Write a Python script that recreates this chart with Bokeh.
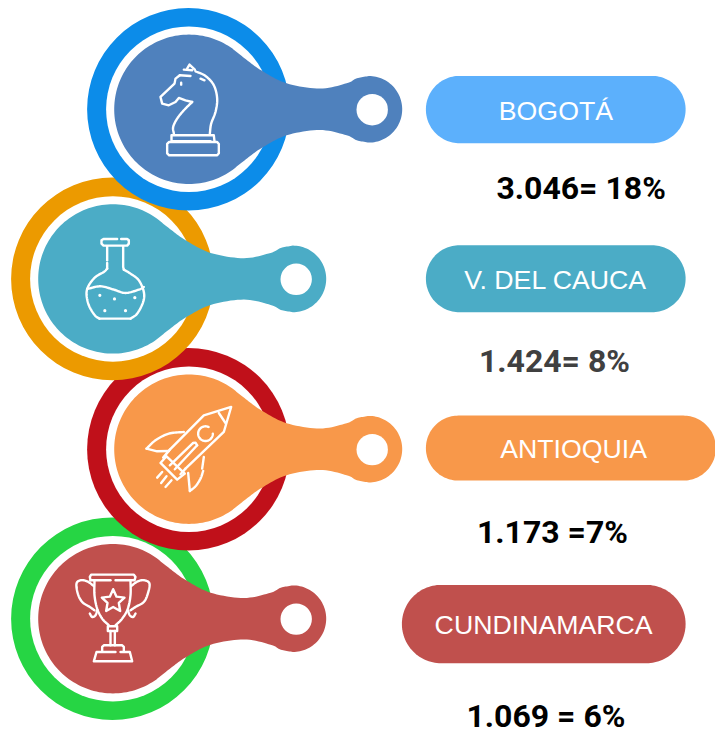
import numpy as np
from bokeh.core.properties import value
from bokeh.embed import file_html
from bokeh.plotting import figure
from bokeh.resources import INLINE

# ---- chart content
regions = ["BOGOTÁ", "V. DEL CAUCA", "ANTIOQUIA", "CUNDINAMARCA"]
value_labels = ["3.046= 18%", "1.424= 8%", "1.173 =7%", "1.069 = 6%"]
value_colors = ["#000000", "#404040", "#000000", "#000000"]
main_colors = ["#4F81BD", "#4BACC6", "#F8984A", "#C0504D"]
pill_colors = ["#5CB0FC", "#4BACC6", "#F8984A", "#C0504D"]
ring_colors = ["#0C8CE9", "#EC9A00", "#C0101A", "#26D544"]

# ---- layout, in page pixels
centers = [(189, 109.4), (113, 279), (189, 449.3), (113, 618.8)]
pills = [(426, 685.7, 76, 143.3), (426, 685.7, 245.3, 312.3),
         (426, 716, 415.7, 480.7), (402, 685.7, 585, 663.3)]
pill_text_x = [556, 555.7, 573.7, 543.7]
pill_text_y = [110.6, 279.6, 449, 624.6]
value_x = [496.5, 479, 477, 466.5]
value_y = [188.4, 361, 531.6, 716]


def smooth(pts, n=10):
    """Catmull-Rom curve through the given outline points."""
    p = np.array(pts, float)
    p = np.vstack([2 * p[0] - p[1], p, 2 * p[-1] - p[-2]])
    out = []
    for i in range(1, len(p) - 2):
        for t in np.linspace(0, 1, n, endpoint=False):
            a, b, c, d = p[i - 1], p[i], p[i + 1], p[i + 2]
            out.append(0.5 * (2 * b + (c - a) * t + (2 * a - 5 * b + 4 * c - d) * t ** 2
                              + (3 * b - a - 3 * c + d) * t ** 3))
    out.append(p[-2])
    return np.array(out)


def arc(cx, cy, r, a0, a1, n=60):
    t = np.radians(np.linspace(a0, a1, n))
    return np.column_stack([cx + r * np.cos(t), cy + r * np.sin(t)])


def teardrop(cx, cy):
    upper = smooth([(43.9, -60.4), (57, -50), (72.7, -38.7), (97.7, -26), (131, -20.7),
                    (157.7, -26), (168, -31), (180, -33.3)])
    head = arc(180, 0, 33.3, -90, 90)
    lower = upper[::-1] * [1, -1]
    a = np.degrees(np.arctan2(60.4, 43.9))
    disc = arc(0, 0, 74.7, a, 360 - a, 120)
    pts = np.vstack([upper, head, lower, disc])
    return pts[:, 0] + cx, pts[:, 1] + cy


def pill(l, r, t, b):
    rad = (b - t) / 2
    my = (t + b) / 2
    pts = np.vstack([arc(r - rad, my, rad, -90, 90), arc(l + rad, my, rad, 90, 270)])
    return pts[:, 0], pts[:, 1]


# ---- icon strokes, in 3x crop coordinates
S, L = smooth, lambda pts: np.array(pts, float)

knight = [
    L([(110, 40), (117, 28), (133, 43)]),
    L([(100, 43), (125, 45)]),
    S([(135, 48), (165, 62), (190, 90), (200, 130), (195, 170), (182, 205), (178, 235)]),
    L([(88, 60), (120, 62)]),
    L([(150, 70), (162, 75)]),
    L([(92, 82), (92, 88)]),
    L([(88, 60), (75, 70), (72, 85), (30, 125), (35, 145), (55, 150), (75, 140), (85, 128),
       (105, 135), (125, 140)]),
    S([(125, 140), (100, 165), (80, 190), (68, 215), (70, 235)]),
    L([(63, 258), (63, 240), (190, 240), (192, 258)]),
    L([(65, 258), (180, 258)]),
    L([(56, 260), (200, 260), (205, 266), (205, 294), (200, 300), (56, 300), (50, 294),
       (50, 266), (56, 260)]),
]
flask = [
    L([(125, 26), (84, 26), (78, 30), (78, 40), (84, 46), (155, 46), (160, 40), (160, 30),
       (155, 26), (137, 26)]),
    L([(95, 48), (95, 90)]),
    L([(95, 98), (95, 115)]),
    S([(95, 115), (85, 125), (60, 140), (40, 165), (33, 190), (40, 225), (58, 255), (72, 265)]),
    L([(72, 265), (165, 265)]),
    S([(165, 265), (185, 250), (203, 215), (205, 185), (190, 150), (165, 130), (145, 118)]),
    L([(145, 118), (143, 110), (143, 48)]),
    S([(35, 176), (75, 168), (115, 178), (150, 188), (190, 178), (205, 170)]),
]
flask_dots = [(73, 195), (117, 206), (178, 202), (88, 241), (150, 241)]
rocket = [
    L([(88, 148), (190, 45), (272, 20), (250, 95), (135, 205)]),
    L([(235, 38), (255, 68)]),
    arc(195, 100, 22, -65, -360),
    S([(130, 95), (85, 100), (45, 120), (18, 145)]),
    L([(18, 145), (50, 153), (85, 152)]),
    L([(190, 170), (185, 205)]),
    L([(143, 218), (148, 272)]),
    S([(148, 272), (165, 258), (180, 235), (188, 212)]),
    L([(158, 128), (88, 195)]),
    L([(170, 135), (103, 207)]),
    L([(158, 128), (165, 127), (170, 135)]),
    L([(78, 168), (60, 188), (110, 238), (133, 220), (78, 168)]),
    L([(88, 148), (68, 172)]),
    L([(135, 205), (120, 222)]),
    L([(65, 215), (50, 232)]),
    L([(78, 228), (62, 248)]),
    L([(93, 240), (75, 260)]),
]
trophy = [
    L([(60, 45), (58, 35), (62, 28), (190, 28), (195, 35), (192, 45), (135, 45)]),
    L([(60, 45), (120, 45)]),
    S([(72, 45), (72, 90), (80, 130), (95, 160), (115, 180)]),
    S([(180, 45), (180, 90), (172, 130), (155, 160), (135, 180)]),
    L([(112, 183), (140, 183), (140, 197), (112, 197), (112, 183)]),
    L([(120, 197), (120, 240)]),
    L([(133, 197), (133, 240)]),
    L([(95, 258), (95, 245), (100, 240), (155, 240), (160, 245), (160, 258)]),
    L([(135, 260), (78, 260), (70, 288), (185, 288), (178, 260), (150, 260)]),
    S([(70, 62), (50, 48), (30, 45), (18, 55), (22, 85), (35, 110), (58, 125), (72, 135)]),
    S([(80, 135), (75, 150), (65, 155), (58, 145)]),
    S([(182, 62), (202, 48), (222, 45), (237, 55), (232, 85), (220, 110), (195, 125), (180, 135)]),
    S([(172, 135), (178, 150), (188, 155), (195, 145)]),
    L([(128, 72), (138, 94), (162, 97), (145, 113), (149, 137), (128, 125), (107, 137),
       (111, 113), (94, 97), (118, 94), (128, 72)]),
]
icons = [(knight, 150.6, 55.4), (flask, 75.6, 230.4), (rocket, 140.6, 400.4), (trophy, 70.6, 565.4)]

p = figure(width=715, height=729, x_range=(0.6, 715.6), y_range=(729.6, 0.6),
           x_axis_type=None, y_axis_type=None, toolbar_location=None,
           output_backend="svg", min_border=0, outline_line_color=None,
           background_fill_color="white", border_fill_color="white",
           styles={"position": "absolute", "left": "0px", "top": "0px"})
p.grid.visible = False

# bottom group first: each upper group overlaps the one below it
for i in range(3, -1, -1):
    cx, cy = centers[i]
    p.circle([cx - 0.5], [cy], radius=101.3, fill_color=ring_colors[i], line_color=None)
    p.circle([cx], [cy], radius=82.8, fill_color="white", line_color=None)
    xs, ys = teardrop(cx, cy)
    p.patch(xs, ys, fill_color=main_colors[i], line_color=None)
    p.circle([cx + 183.3], [cy + 0.4], radius=15.7, fill_color="white", line_color=None)
    strokes, ox, oy = icons[i]
    p.multi_line([list(ox + s[:, 0] / 3) for s in strokes],
                 [list(oy + s[:, 1] / 3) for s in strokes],
                 line_color="white", line_width=2.4, line_join="round", line_cap="round")

p.circle([75.6 + x / 3 for x, _ in flask_dots], [230.4 + y / 3 for _, y in flask_dots],
         radius=1.6, fill_color="white", line_color=None)

for i in range(4):
    xs, ys = pill(*pills[i])
    p.patch(xs, ys, fill_color=pill_colors[i], line_color=None)

p.text(pill_text_x, pill_text_y, text=regions, text_color="white", text_align="center",
       text_baseline="middle", text_font=value("Liberation Sans"), text_font_size="26.7px")
p.text(value_x, value_y, text=value_labels, text_color=value_colors, text_align="left",
       text_baseline="middle", text_font=value("Roboto"), text_font_style="bold",
       text_font_size="32px")

open("out.html", "w").write(file_html(p, INLINE))
